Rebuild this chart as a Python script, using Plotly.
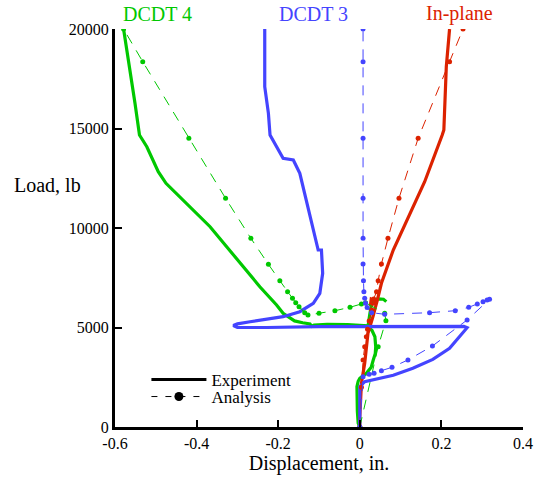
import plotly.graph_objects as go

# ---------------- data (displacement in., load lb) ----------------
# Experiment, DCDT 4 (green)
g_exp_x = [0.000, -0.004, -0.006, -0.007, -0.007, -0.004, 0.000, 0.016, 0.028, 0.033, 0.038, 0.039, 0.037, 0.030, 0.020,
           0.024, 0.028, 0.033, 0.045, 0.058, 0.065, None,
           0.020, -0.030, -0.080, -0.112, -0.118, -0.122, -0.140, -0.160, -0.188, -0.204, -0.245, -0.367, -0.475,
           -0.494, -0.522, -0.540, -0.551, -0.563, -0.579]
g_exp_y = [0, 200, 800, 1357, 2025, 2300, 2447, 2698, 3000, 3367, 3700, 4035, 4537, 4850, 5040,
           5600, 6100, 6380, 6440, 6420, 6300, None,
           5080, 5150, 5160, 5120, 5060, 5180, 5240, 5330, 5713, 6130, 7050, 10065, 12245,
           12830, 14085, 14673, 16266, 17940, 20000]

# Experiment, DCDT 3 (blue)
b_exp_x = [0.000, 0.000, 0.000, 0.012, 0.041, 0.082, 0.130, 0.179, 0.220, 0.257, 0.263, 0.255, 0.100, -0.100,
           -0.228, -0.300, -0.310, -0.300, -0.269, -0.188, -0.147, -0.114, -0.098, -0.091, -0.094, -0.102,
           -0.147, -0.163, -0.188, -0.220, -0.224, -0.233, -0.233]
b_exp_y = [0, 200, 2025, 2276, 2420, 2600, 2950, 3400, 3950, 4874, 4990, 5060, 5060, 5040,
           5000, 5000, 5100, 5180, 5291, 5543, 5794, 6216, 6718, 7723, 8894, 8894,
           12750, 13417, 13502, 14673, 15763, 17100, 20000]

# Experiment, In-plane (red)
r_exp_x = [0.000, 0.000, 0.004, 0.012, 0.020, 0.028, 0.033, 0.038, 0.042, 0.028, 0.026, 0.042, 0.053, 0.082,
           0.130, 0.159, 0.202, 0.206, 0.212, 0.220]
r_exp_y = [0, 518, 2196, 3200, 4708, 5200, 5600, 6000, 6300, 6430, 6100, 6300, 7221, 8894,
           11070, 12327, 14673, 14924, 18100, 20000]

# Analysis, DCDT 4 (green)
g_ana_x = [0.000, 0.045, 0.064, 0.061, 0.014, 0.004, -0.024, -0.061, -0.100, -0.127, -0.135, -0.149, -0.157,
           -0.165, -0.177, -0.196, -0.224, -0.267, -0.329, -0.419, -0.532, -0.579]
g_ana_y = [0, 4035, 5340, 5713, 6246, 6181, 6015, 5844, 5713, 5628, 5743, 6045, 6246,
           6467, 6800, 7352, 8176, 9482, 11492, 14507, 18357, 20000]

# Analysis, DCDT 3 (blue)
b_ana_x = [0.000, 0.008, 0.023, 0.035, 0.053, 0.079, 0.118, 0.178, 0.263, 0.318, 0.312, 0.302, 0.288, 0.267,
           0.234, 0.171, 0.061, 0.029, 0.018, 0.014, 0.012, 0.010, 0.009, 0.008, 0.008, 0.008, 0.008, 0.008, 0.008]
b_ana_y = [0, 2530, 2650, 2700, 2830, 3000, 3370, 4070, 5377, 6417, 6382, 6296, 6181, 6015,
           5844, 5744, 5663, 5744, 6000, 6216, 6467, 6800, 7352, 8191, 9482, 11492, 14507, 18357, 20000]

# Analysis, In-plane (red)
r_ana_x = [0.000, 0.004, 0.008, 0.012, 0.016, 0.019, 0.023, 0.029, 0.034, 0.041, 0.045, 0.053, 0.069, 0.096,
           0.143, 0.220, 0.253]
r_ana_y = [0, 2000, 3367, 4035, 4537, 4910, 5327, 5880, 6430, 6800, 7352, 8191, 9482, 11492,
           14507, 18357, 20000]

x_tick_vals = [-0.6, -0.4, -0.2, 0.0, 0.2, 0.4]
x_tick_text = ["-0.6", "-0.4", "-0.2", "0", "0.2", "0.4"]
y_tick_vals = [0, 5000, 10000, 15000, 20000]
y_tick_text = ["0", "5000", "10000", "15000", "20000"]

GREEN = "rgb(0,200,0)"
BLUE = "rgb(68,68,255)"
RED = "rgb(220,34,0)"
FONT = "Liberation Serif"
DASH = "10px,8px"

fig = go.Figure()

for xs, ys, c in [(g_exp_x, g_exp_y, GREEN), (r_exp_x, r_exp_y, RED), (b_exp_x, b_exp_y, BLUE)]:
    fig.add_trace(go.Scatter(x=xs, y=ys, mode="lines", line=dict(color=c, width=3.2),
                             showlegend=False, hoverinfo="skip"))

for xs, ys, c in [(g_ana_x, g_ana_y, GREEN), (r_ana_x, r_ana_y, RED), (b_ana_x, b_ana_y, BLUE)]:
    fig.add_trace(go.Scatter(x=xs, y=ys, mode="lines+markers",
                             line=dict(color=c, width=1, dash=DASH),
                             marker=dict(color=c, size=5), showlegend=False, hoverinfo="skip"))

# legend entries
fig.add_trace(go.Scatter(x=[None], y=[None], mode="lines", name="Experiment",
                         line=dict(color="black", width=3), legend="legend"))
fig.add_trace(go.Scatter(x=[None], y=[None], mode="lines+markers", name="Analysis",
                         line=dict(color="black", width=1, dash="6px,8px"),
                         marker=dict(color="black", size=9), legend="legend2"))

fig.update_layout(
    width=535, height=477,
    margin=dict(l=115, r=12, t=29, b=50, autoexpand=False),
    paper_bgcolor="white", plot_bgcolor="white",
    font=dict(family=FONT, size=16, color="black"),
    xaxis=dict(range=[-0.6, 0.4], tickvals=x_tick_vals, ticktext=x_tick_text, automargin=False,
               showgrid=False, zeroline=False, showline=True, linecolor="black", linewidth=3,
               ticks="inside", ticklen=7, tickwidth=1.5, tickcolor="black",
               tickfont=dict(size=16, family=FONT),
               title=dict(text="Displacement, in.", font=dict(size=20, family=FONT), standoff=4)),
    yaxis=dict(range=[0, 20000], tickvals=y_tick_vals, ticktext=y_tick_text, automargin=False,
               showgrid=False, zeroline=False, showline=True, linecolor="black", linewidth=3,
               ticks="inside", ticklen=7, tickwidth=1.5, tickcolor="black",
               tickfont=dict(size=16, family=FONT)),
    legend=dict(x=0.077, y=0.118, xanchor="left", yanchor="middle", bgcolor="rgba(0,0,0,0)",
                font=dict(size=17, family=FONT), itemwidth=55),
    legend2=dict(x=0.077, y=0.0754, xanchor="left", yanchor="middle", bgcolor="rgba(0,0,0,0)",
                 font=dict(size=17, family=FONT), itemwidth=55),
    annotations=[
        dict(text="Load, lb", xref="paper", yref="paper", x=-0.2525, y=0.608, xanchor="left",
             yanchor="middle", showarrow=False, font=dict(size=20, family=FONT)),
        dict(text="DCDT 4", xref="x", yref="paper", x=-0.495, y=1.038, showarrow=False,
             yanchor="middle", font=dict(size=20, family=FONT, color=GREEN)),
        dict(text="DCDT 3", xref="x", yref="paper", x=-0.113, y=1.038, showarrow=False,
             yanchor="middle", font=dict(size=20, family=FONT, color=BLUE)),
        dict(text="In-plane", xref="x", yref="paper", x=0.245, y=1.038, showarrow=False,
             yanchor="middle", font=dict(size=20, family=FONT, color=RED)),
    ],
)

# remove the browser's default 8px page margin so the figure fills the window exactly
fig.write_html("out.html", config={"displayModeBar": False},
               post_script="document.body.style.margin='0';")
